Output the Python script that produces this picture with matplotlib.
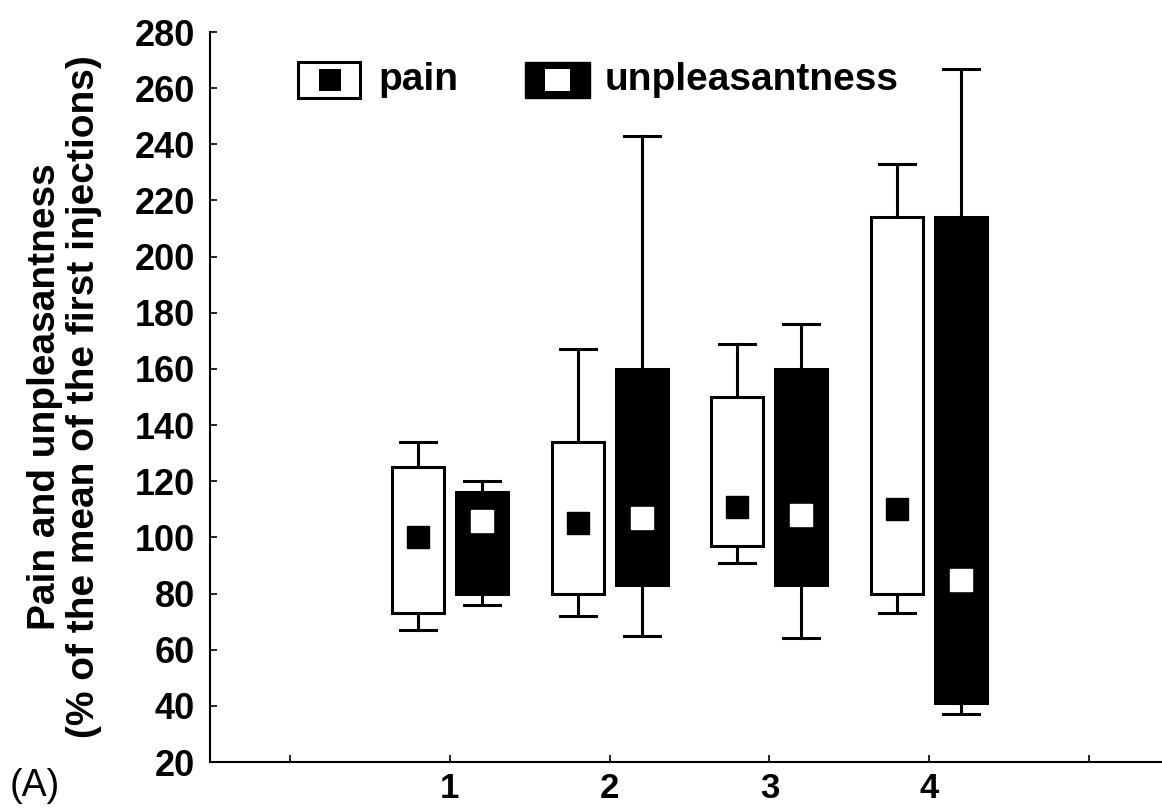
import matplotlib
matplotlib.use("Agg")
import matplotlib.pyplot as plt
from matplotlib.patches import Rectangle

plt.rcParams['font.family'] = ['Liberation Sans', 'DejaVu Sans']

# box statistics (% of mean of first injections)
sessions = [1, 2, 3, 4]
pain_whislo = [67, 72, 91, 73]
pain_q1 = [73, 80, 97, 80]
pain_mid = [100, 105, 111, 110]
pain_q3 = [125, 134, 150, 214]
pain_whishi = [134, 167, 169, 233]

unp_whislo = [76, 65, 64, 37]
unp_q1 = [80, 83, 83, 41]
unp_mid = [106, 107, 108, 85]
unp_q3 = [116, 160, 160, 214]
unp_whishi = [120, 243, 176, 267]

W, H = 1162, 809
fig = plt.figure(figsize=(W / 100, H / 100), dpi=100)
ax = fig.add_axes([210 / W, 1 - 762 / H, 1 - 210 / W, (762 - 32) / H])


def stats(lo, q1, mid, q3, hi):
    return [dict(whislo=a, q1=b, med=c, mean=c, q3=d, whishi=e)
            for a, b, c, d, e in zip(lo, q1, mid, q3, hi)]


common = dict(widths=0.325, capwidths=0.225, patch_artist=True,
              showmeans=True, showfliers=False,
              whiskerprops=dict(color='black', linewidth=2.2),
              capprops=dict(color='black', linewidth=2.2),
              medianprops=dict(linestyle='none'))

ax.bxp(stats(pain_whislo, pain_q1, pain_mid, pain_q3, pain_whishi),
       positions=[s - 0.2 for s in sessions],
       boxprops=dict(facecolor='white', edgecolor='black', linewidth=2.2),
       meanprops=dict(marker='s', markersize=16, markerfacecolor='black',
                      markeredgecolor='black'),
       **common)
ax.bxp(stats(unp_whislo, unp_q1, unp_mid, unp_q3, unp_whishi),
       positions=[s + 0.2 for s in sessions],
       boxprops=dict(facecolor='black', edgecolor='black', linewidth=2.2),
       meanprops=dict(marker='s', markersize=16, markerfacecolor='white',
                      markeredgecolor='white'),
       **common)

ax.set_xlim(-0.5, (W - 289) / 160)
ax.set_ylim(20, 280)
ax.set_yticks(range(20, 281, 20))
ax.set_xticks(range(0, 6))
ax.set_xticklabels(['', '1', '2', '3', '4', ''])
for s in ['top', 'right']:
    ax.spines[s].set_visible(False)
for s in ['left', 'bottom']:
    ax.spines[s].set_linewidth(1.5)
ax.tick_params(axis='y', direction='in', length=5, width=1.2, pad=11,
               labelsize=26)
ax.tick_params(axis='x', direction='in', length=5, width=1.2, pad=7,
               labelsize=25)
for lab in ax.get_xticklabels() + ax.get_yticklabels():
    lab.set_fontweight('bold')

ax.set_ylabel('Pain and unpleasantness\n(% of the mean of the first injections)',
              fontsize=28, fontweight='bold', linespacing=1.1)
ax.yaxis.set_label_coords((102 - 210) / (W - 210), 0.5)

fig.text(10 / W, 1 - 786 / H, '(A)', fontsize=27, va='center', ha='left')

# legend drawn by hand in figure pixels
def px(x, y):
    return x / W, 1 - y / H

def frect(x0, y0, x1, y1, **kw):
    fig.add_artist(Rectangle(px(x0, y1), (x1 - x0) / W, (y1 - y0) / H,
                             transform=fig.transFigure, **kw))

frect(298, 62, 360, 98, facecolor='white', edgecolor='black', linewidth=2.2)
frect(319, 69, 341, 91, facecolor='black', edgecolor='none')
frect(525, 62, 590, 98, facecolor='black', edgecolor='black', linewidth=1)
frect(545, 69, 570, 91, facecolor='white', edgecolor='none')
fig.text(*px(378, 80), 'pain', fontsize=28, fontweight='bold', va='center')
fig.text(*px(605, 80), 'unpleasantness', fontsize=28, fontweight='bold',
         va='center')

fig.savefig('out.png', dpi=100)
